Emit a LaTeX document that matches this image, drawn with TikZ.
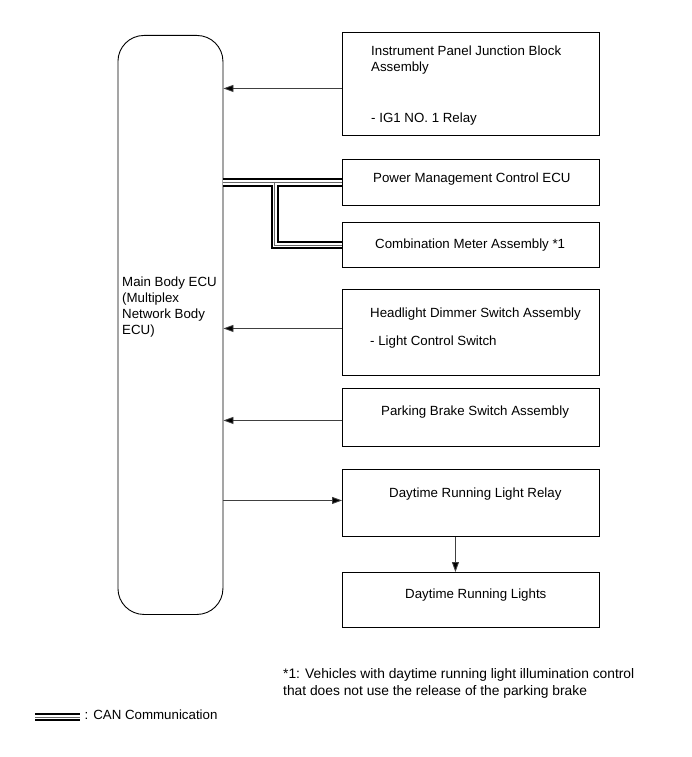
\documentclass[tikz,border=0pt]{standalone}
\usepackage{fontspec}
\setmainfont{Liberation Sans}
\usetikzlibrary{arrows.meta}
\begin{document}
\begin{tikzpicture}[x=1pt,y=-1pt,
  box/.style={draw=black, line width=0.9pt, anchor=north west, inner sep=0pt},
  lbl/.style={anchor=base west, inner sep=0pt, align=left, font=\fontsize{13.3}{16}\selectfont},
  sig/.style={draw=black!75, line width=0.8pt, -{Triangle[length=10pt,width=7pt,fill=black]}},
  canout/.style={line width=8.5pt, draw=black},
  canmid/.style={line width=4.2pt, draw=white},
  caninn/.style={line width=0.9pt, draw=black!60},
]
\useasboundingbox (0,0) rectangle (691,757);

% main ECU
\node[box, rounded corners=26pt, minimum width=105pt, minimum height=579pt] (ecu) at (117.5,35) {};
\node[lbl] (ecut) at (122,334) {Main Body ECU\\(Multiplex\\Network Body\\ECU)};

% right boxes
\node[box, minimum width=257pt, minimum height=103pt] (ipjb) at (342,32) {};
\node[box, minimum width=257pt, minimum height=46pt] (pmc) at (342,159) {};
\node[box, minimum width=257pt, minimum height=45pt] (cmb) at (342,222) {};
\node[box, minimum width=257pt, minimum height=86pt] (hds) at (342,289) {};
\node[box, minimum width=257pt, minimum height=58pt] (pbs) at (342,388) {};
\node[box, minimum width=257pt, minimum height=67pt] (drlr) at (342,469) {};
\node[box, minimum width=257pt, minimum height=55pt] (drl) at (342,572) {};

% box texts
\node[lbl] (ipjbt) at (371,72) {Instrument Panel Junction Block\\Assembly};
\node[lbl] (ipjbr) at (371,122) {- IG1 NO. 1 Relay};
\node[lbl] (pmct) at (373,182) {Power Management Control ECU};
\node[lbl] (cmbt) at (375,248) {Combination Meter Assembly *1};
\node[lbl] (hdst) at (370,317) {Headlight Dimmer Switch Assembly};
\node[lbl] (hdsr) at (370,345.5) {- Light Control Switch};
\node[lbl] (pbst) at (381,415) {Parking Brake Switch Assembly};
\node[lbl] (drlrt) at (389,497) {Daytime Running Light Relay};
\node[lbl] (drlt) at (405,598) {Daytime Running Lights};

% signal arrows
\coordinate (a1) at ([yshift=-4.5pt]ipjb.west);
\draw[sig] (a1) -- (a1 -| ecu.east);
\coordinate (a2) at ([yshift=4pt]hds.west);
\draw[sig] (a2) -- (a2 -| ecu.east);
\coordinate (a3) at ([yshift=-3pt]pbs.west);
\draw[sig] (a3) -- (a3 -| ecu.east);
\coordinate (a4) at ([yshift=2.5pt]drlr.west);
\draw[sig] (a4 -| ecu.east) -- (a4);
\coordinate (a5) at ([xshift=-15.5pt]drlr.south);
\draw[sig] (a5) -- (a5 |- drl.north);

% CAN bus
\coordinate (j) at ([xshift=51.5pt]ecu.east |- pmc.west);
\foreach \s in {canout,canmid,caninn}{
  \draw[\s] (ecu.east |- pmc.west) -- (pmc.west);
  \draw[\s] (j) |- (cmb.west);
}

% footnote
\node[lbl, font=\fontsize{13.8}{16.5}\selectfont] (fn) at (283,695) {*1: Vehicles with daytime running light illumination control\\that does not use the release of the parking brake};

% legend
\coordinate (l1) at (35,717);
\coordinate (l2) at (80,717);
\foreach \s in {canout,canmid,caninn}{
  \draw[\s] (l1) -- (l2);
}
\node[lbl] (legt) at (84.5,719) {: CAN Communication};
\end{tikzpicture}
\end{document}
